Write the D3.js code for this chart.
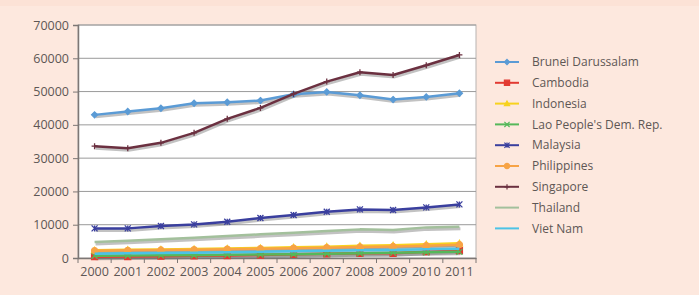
<!doctype html>
<html>
<head>
<meta charset="utf-8">
<script src="https://cdn.jsdelivr.net/npm/d3@7"></script>
<style>
  body { margin: 0; background: #fde8de; }
  svg { display: block; }
  text { font-family: "Open Sans", "DejaVu Sans", sans-serif; fill: #5e5755; }
</style>
</head>
<body>
<svg id="chart" width="699" height="295"></svg>
<script>
  // data
  var years = ['2000', '2001', '2002', '2003', '2004', '2005', '2006', '2007', '2008', '2009', '2010', '2011'];
  var countries = ['Brunei Darussalam', 'Cambodia', 'Indonesia', "Lao People's Dem. Rep.", 'Malaysia', 'Philippines', 'Singapore', 'Thailand', 'Viet Nam'];
  var brunei = [43000, 44000, 45000, 46500, 46800, 47300, 49200, 49900, 48900, 47600, 48400, 49500];
  var cambodia = [400, 450, 550, 650, 750, 900, 1100, 1250, 1400, 1400, 1900, 2200];
  var indonesia = [2300, 2450, 2550, 2700, 2850, 3000, 3200, 3400, 3650, 3800, 4100, 4400];
  var lao = [700, 750, 800, 850, 950, 1050, 1150, 1300, 1450, 1550, 1700, 1850];
  var malaysia = [8900, 8900, 9600, 10100, 10900, 12000, 12900, 13900, 14600, 14400, 15200, 16100];
  var philippines = [2200, 2300, 2400, 2500, 2650, 2800, 2950, 3100, 3300, 3450, 3700, 4000];
  var singapore = [33600, 33000, 34600, 37600, 41800, 45100, 49300, 53000, 55800, 55000, 57900, 61000];
  var thailand = [4800, 5200, 5600, 6100, 6600, 7100, 7600, 8100, 8600, 8400, 9200, 9400];
  var vietnam = [1300, 1400, 1500, 1600, 1700, 1850, 2000, 2150, 2300, 2400, 2600, 2800];
  var yTicks = [0, 10000, 20000, 30000, 40000, 50000, 60000, 70000];

  var seriesValues = [brunei, cambodia, indonesia, lao, malaysia, philippines, singapore, thailand, vietnam];
  var colors = ['#5b9bd5', '#e23a32', '#f7d21e', '#55b85a', '#3a3f9e', '#f7a345', '#6b3040', '#a3c09c', '#4cc3e6'];
  var markers = ['diamond', 'square', 'triangle', 'cross', 'star', 'circle', 'plus', null, null];

  var svg = d3.select('#chart');

  // slightly darker strip across the top
  svg.append('rect').attr('width', 699).attr('height', 6).attr('fill', '#fce2d6');

  var plot = { left: 78, top: 25, right: 476, bottom: 258 };

  var x = d3.scaleBand().domain(years).range([plot.left, plot.right]);
  var y = d3.scaleLinear().domain([0, 70000]).range([plot.bottom, plot.top]);

  svg.append('rect')
    .attr('x', plot.left).attr('y', plot.top)
    .attr('width', plot.right - plot.left).attr('height', plot.bottom - plot.top)
    .attr('fill', '#fff').attr('stroke', '#b8b3b1');

  // gridlines
  svg.append('g').selectAll('line')
    .data(yTicks.slice(1))
    .join('line')
    .attr('x1', plot.left).attr('x2', plot.right)
    .attr('y1', function (d) { return y(d); }).attr('y2', function (d) { return y(d); })
    .attr('stroke', '#9a9a9a');

  // y axis
  var yAxis = svg.append('g')
    .attr('transform', 'translate(' + plot.left + ',0)')
    .call(d3.axisLeft(y).tickValues(yTicks).tickSize(5).tickPadding(4).tickFormat(d3.format('d')));
  yAxis.select('.domain').attr('stroke', '#7d7775').attr('stroke-width', 1.5);
  yAxis.selectAll('.tick line').attr('stroke', '#7d7775');
  yAxis.selectAll('text').style('font-size', '12.5px');

  // x axis: ticks sit between categories
  var xAxis = svg.append('g')
    .attr('transform', 'translate(0,' + plot.bottom + ')')
    .call(d3.axisBottom(x).tickSize(0).tickPadding(9));
  xAxis.select('.domain').attr('stroke', '#7d7775').attr('stroke-width', 1.5);
  xAxis.selectAll('text').style('font-size', '12.5px');
  xAxis.append('g').selectAll('line')
    .data(years.concat(['end']))
    .join('line')
    .attr('x1', function (d, i) { return plot.left + i * x.bandwidth(); })
    .attr('x2', function (d, i) { return plot.left + i * x.bandwidth(); })
    .attr('y1', 0).attr('y2', 5)
    .attr('stroke', '#7d7775');

  function markerPath(type, size) {
    var s = size;
    switch (type) {
      case 'diamond': return 'M0,' + (-s) + 'L' + s + ',0L0,' + s + 'L' + (-s) + ',0Z';
      case 'square': return 'M' + (-s) + ',' + (-s) + 'h' + 2 * s + 'v' + 2 * s + 'h' + (-2 * s) + 'Z';
      case 'triangle': return 'M0,' + (-s) + 'L' + s + ',' + s * 0.8 + 'L' + (-s) + ',' + s * 0.8 + 'Z';
      case 'circle': return d3.symbol(d3.symbolCircle, s * s * 3.2)();
      case 'cross': return 'M' + (-s) + ',' + (-s) + 'L' + s + ',' + s + 'M' + (-s) + ',' + s + 'L' + s + ',' + (-s);
      case 'plus': return 'M' + (-s) + ',0H' + s + 'M0,' + (-s) + 'V' + s;
      case 'star': return 'M' + (-s) + ',' + (-s) + 'L' + s + ',' + s + 'M' + (-s) + ',' + s + 'L' + s + ',' + (-s) + 'M0,' + (-s) + 'V' + s;
    }
    return '';
  }
  var filled = { diamond: true, square: true, triangle: true, circle: true };

  var line = d3.line()
    .x(function (d, i) { return x(years[i]) + x.bandwidth() / 2; })
    .y(function (d) { return y(d); });

  // shadows first
  var shadows = svg.append('g').attr('transform', 'translate(1,2)');
  seriesValues.forEach(function (vals, k) {
    shadows.append('path').datum(vals)
      .attr('d', line).attr('fill', 'none')
      .attr('stroke', 'rgba(120,120,120,0.45)').attr('stroke-width', 3);
  });

  var series = svg.append('g');
  seriesValues.forEach(function (vals, k) {
    var g = series.append('g');
    g.append('path').datum(vals)
      .attr('d', line).attr('fill', 'none')
      .attr('stroke', colors[k]).attr('stroke-width', 2.5)
      .attr('stroke-linejoin', 'round');
    if (markers[k]) {
      g.selectAll('path.m')
        .data(vals)
        .join('path')
        .attr('class', 'm')
        .attr('transform', function (d, i) {
          return 'translate(' + (x(years[i]) + x.bandwidth() / 2) + ',' + y(d) + ')';
        })
        .attr('d', markerPath(markers[k], 3))
        .attr('fill', filled[markers[k]] ? colors[k] : 'none')
        .attr('stroke', colors[k]).attr('stroke-width', 1.3);
    }
  });

  // legend
  var legend = svg.append('g').attr('transform', 'translate(495,62)');
  var item = legend.selectAll('g')
    .data(countries)
    .join('g')
    .attr('transform', function (d, i) { return 'translate(0,' + i * 20.8 + ')'; });
  item.append('line')
    .attr('x1', 0).attr('x2', 24)
    .attr('stroke', function (d, i) { return colors[i]; })
    .attr('stroke-width', 2);
  item.filter(function (d, i) { return markers[i]; })
    .append('path')
    .attr('transform', 'translate(12,0)')
    .attr('d', function (d, i) { return markerPath(markers[i], 2.6); })
    .attr('fill', function (d, i) { return filled[markers[i]] ? colors[i] : 'none'; })
    .attr('stroke', function (d, i) { return colors[i]; })
    .attr('stroke-width', 1.2);
  item.append('text')
    .attr('x', 37).attr('dy', '0.35em')
    .style('font-size', '12px')
    .text(function (d) { return d; });
</script>
</body>
</html>
